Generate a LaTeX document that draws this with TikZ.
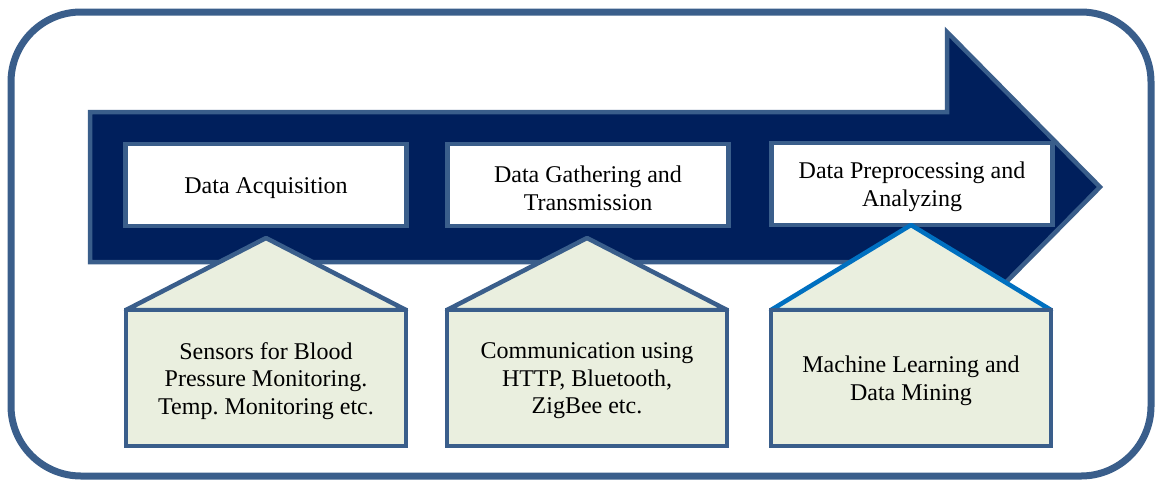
\documentclass[tikz,border=0pt]{standalone}
\usepackage{fontspec}
\setmainfont{Liberation Serif}
\usetikzlibrary{calc}
\frenchspacing
\definecolor{frameblue}{HTML}{3A5E8B}
\definecolor{navy}{HTML}{001F5C}
\definecolor{callfill}{HTML}{EAEFDF}
\definecolor{brightblue}{HTML}{0070C0}
\begin{document}
\begin{tikzpicture}[x=1pt,y=-1pt,
  txt/.style={font=\fontsize{24}{27.6}\selectfont\frenchspacing, align=center, text=black},
  boxtext/.style={label={[txt, yshift=-3pt]center:{#1}}},
  stepbox/.style={draw=frameblue, line width=4.5pt, fill=white, rectangle,
    minimum width=281pt, minimum height=82pt, inner sep=0pt, outer sep=0pt},
  callbox/.style={draw=frameblue, line width=4.5pt, fill=callfill, rectangle,
    minimum width=280pt, minimum height=136pt, inner sep=0pt, outer sep=0pt},
  roof/.style={fill=callfill, draw=frameblue, line width=4.5pt, line join=round},
  frame/.style={draw=frameblue, line width=7pt, rounded corners=70pt},
  bigarrow/.style={fill=navy, draw=frameblue, line width=4.5pt, line join=miter}
]
\useasboundingbox[fill=white] (0,0) rectangle (1155,480);

% outer frame
\draw[frame] (11,12) rectangle (1151,476);

% big arrow
\draw[bigarrow] (90,112) -- (947,112) -- (947,32) -- (1100,187) -- (947,342)
  -- (947,262) -- (90,262) -- cycle;

% top boxes
\node[stepbox, boxtext={Data Acquisition}] (s1) at (266,185) {};
\node[stepbox, boxtext={Data Gathering and\\Transmission}] (s2) at (588,185) {};
\node[stepbox, boxtext={Data Preprocessing and\\Analyzing}] (s3) at (912,184) {};

% callouts
\coordinate (a1) at (266,238);
\coordinate (a2) at (587,238);
\coordinate (a3) at (911,225);
\draw[roof] ($(a1)+(-140,72)$) -- (a1) -- ($(a1)+(140,72)$) -- cycle;
\draw[roof] ($(a2)+(-140,72)$) -- (a2) -- ($(a2)+(140,72)$) -- cycle;
\draw[roof, draw=brightblue] ($(a3)+(-140,85)$) -- (a3) -- ($(a3)+(140,85)$) -- cycle;

\node[callbox, boxtext={Sensors for Blood\\Pressure Monitoring.\\Temp. Monitoring etc.}] (c1) at (266,378) {};
\node[callbox, boxtext={Communication using\\HTTP, Bluetooth,\\ZigBee etc.}] (c2) at (587,378) {};
\node[callbox, boxtext={Machine Learning and\\Data Mining}] (c3) at (911,378) {};
\end{tikzpicture}
\end{document}
